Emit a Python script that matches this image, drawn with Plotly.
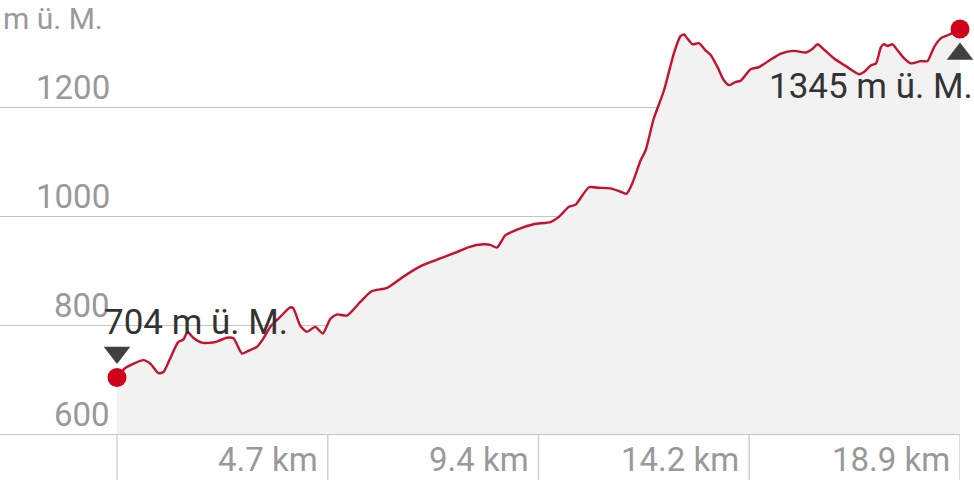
import plotly.graph_objects as go

# ---- data ----
distance_km = [0.00, 0.18, 0.59, 0.74, 0.93, 1.04, 1.19, 1.37, 1.49, 1.58, 1.71, 1.90, 2.20, 2.46, 2.61, 2.68,
               2.80, 2.94, 3.13, 3.28, 3.43, 3.65, 3.88, 3.95, 4.10, 4.25, 4.44, 4.61, 4.78, 4.93, 5.15, 5.45,
               5.71, 6.05, 6.42, 6.80, 7.17, 7.62, 7.88, 8.21, 8.36, 8.51, 8.70, 8.96, 9.33, 9.71, 9.89, 10.12,
               10.27, 10.57, 10.79, 11.05, 11.24, 11.41, 11.54, 11.73, 11.84, 12.02, 12.25, 12.47, 12.62, 12.70,
               12.77, 12.89, 13.03, 13.18, 13.30, 13.45, 13.59, 13.71, 13.86, 13.97, 14.19, 14.38, 14.64, 14.87,
               15.16, 15.43, 15.58, 15.69, 15.84, 16.06, 16.36, 16.62, 16.73, 16.88, 17.00, 17.11, 17.18, 17.26,
               17.37, 17.48, 17.63, 17.78, 18.00, 18.15, 18.30, 18.45, 18.64, 18.88]
elevation_m = [704, 721, 736, 730, 712, 714, 739, 769, 774, 788, 777, 768, 769, 777, 776, 766,
               748, 753, 760, 776, 797, 815, 833, 831, 800, 788, 797, 785, 812, 820, 818, 843,
               863, 869, 890, 909, 921, 935, 944, 949, 948, 943, 966, 976, 986, 990, 999, 1018,
               1022, 1054, 1053, 1052, 1047, 1042, 1061, 1104, 1122, 1180, 1232, 1300, 1332, 1335,
               1328, 1317, 1319, 1306, 1297, 1275, 1251, 1242, 1248, 1250, 1271, 1275, 1289, 1300,
               1305, 1302, 1309, 1317, 1307, 1291, 1275, 1262, 1266, 1278, 1282, 1312, 1317, 1314,
               1317, 1306, 1291, 1282, 1286, 1286, 1312, 1328, 1335, 1345]
total_km = 18.88
start_label = "704 m ü. M."
end_label = "1345 m ü. M."
y_ticks = [600, 800, 1000, 1200]
x_tick_vals = [total_km * k / 4 for k in range(1, 5)]
x_tick_text = ["4.7 km", "9.4 km", "14.2 km", "18.9 km"]
y_unit = "m ü. M."

# ---- layout geometry ----
W, H = 974, 480
ML, MR, MT, MB = 0, 14, 0, 46
plot_w = W - ML - MR
plot_h = H - MT - MB
start_px = 117
x_left = -total_km * start_px / (plot_w - start_px)
y_min = 600
px_per_m = 108.7 / 200
y_max = y_min + plot_h / px_per_m
tri_off = 25 / px_per_m

RED_LINE = "#c8102e"
RED_DOT = "#d0021b"
DARK = "#404040"
GREY_TXT = "#999999"
GRID = "#c4c4c4"
FONT = "Roboto"

fig = go.Figure()
fig.add_trace(go.Scatter(x=distance_km, y=elevation_m, mode="lines",
                         line=dict(color=RED_LINE, width=2.4, shape="spline", smoothing=0.6),
                         fill="tozeroy", fillcolor="#f2f2f2", hoverinfo="skip"))
fig.add_trace(go.Scatter(x=[distance_km[0], distance_km[-1]], y=[elevation_m[0], elevation_m[-1]],
                         mode="markers", marker=dict(size=19, color=RED_DOT), cliponaxis=False,
                         hoverinfo="skip"))
fig.add_trace(go.Scatter(x=[distance_km[0]], y=[elevation_m[0] + tri_off], mode="markers",
                         marker=dict(symbol="triangle-down", size=23, color=DARK), cliponaxis=False,
                         hoverinfo="skip"))
fig.add_trace(go.Scatter(x=[distance_km[-1]], y=[elevation_m[-1] - tri_off], mode="markers",
                         marker=dict(symbol="triangle-up", size=23, color=DARK), cliponaxis=False,
                         hoverinfo="skip"))

annotations = []
for v in y_ticks:
    annotations.append(dict(x=112 / plot_w, xref="paper", y=v, yref="y", text=str(v), showarrow=False,
                            xanchor="right", yanchor="middle", yshift=20,
                            font=dict(family=FONT, size=33, color=GREY_TXT)))
for v, t in zip(x_tick_vals, x_tick_text):
    annotations.append(dict(x=v, xref="x", y=0, yref="paper", text=t, showarrow=False,
                            xanchor="right", yanchor="middle", xshift=-8, yshift=-25.5,
                            font=dict(family=FONT, size=33, color=GREY_TXT)))
annotations.append(dict(x=0, xref="paper", y=1, yref="paper", text=y_unit, showarrow=False,
                        xanchor="left", yanchor="middle", yshift=-18, xshift=1,
                        font=dict(family=FONT, size=30, color=GREY_TXT)))
annotations.append(dict(x=distance_km[0], xref="x", y=elevation_m[0], yref="y", text=start_label,
                        showarrow=False, xanchor="left", yanchor="middle", xshift=-15, yshift=55,
                        font=dict(family=FONT, size=35, color="#333333")))
annotations.append(dict(x=distance_km[-1], xref="x", y=elevation_m[-1], yref="y", text=end_label,
                        showarrow=False, xanchor="right", yanchor="middle", xshift=15, yshift=-57,
                        font=dict(family=FONT, size=35, color="#333333")))

shapes = []
for v in [0] + x_tick_vals:
    shapes.append(dict(type="line", xref="x", yref="paper", x0=v, x1=v, y0=0, y1=-MB / plot_h,
                       line=dict(color="#d0d0d0", width=1.5)))

fig.update_layout(
    width=W, height=H, margin=dict(l=ML, r=MR, t=MT, b=MB),
    paper_bgcolor="white", plot_bgcolor="white", showlegend=False,
    xaxis=dict(range=[x_left, total_km], showgrid=False, zeroline=False, showticklabels=False,
               showline=True, linecolor=GRID, linewidth=1, ticks=""),
    yaxis=dict(range=[y_min, y_max], tickvals=y_ticks, showgrid=True, gridcolor=GRID, gridwidth=1,
               zeroline=False, showticklabels=False, ticks=""),
    annotations=annotations, shapes=shapes,
)
fig.write_html("out.html", config={"displayModeBar": False})

# remove the browser's default 8px page margin so the figure sits at the window's corner
with open("out.html", "r", encoding="utf-8") as f:
    html = f.read()
html = html.replace("<head>", "<head><style>html,body{margin:0;padding:0;overflow:hidden;}</style>", 1)
with open("out.html", "w", encoding="utf-8") as f:
    f.write(html)
